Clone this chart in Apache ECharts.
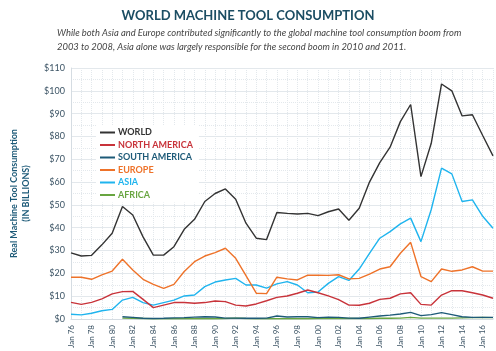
<!DOCTYPE html>
<html>
<head>
<meta charset="utf-8">
<script src="https://cdn.jsdelivr.net/npm/echarts@6/dist/echarts.min.js"></script>
<style>
  html, body { margin: 0; padding: 0; background: #fff; }
  #chart { width: 496px; height: 351px; }
</style>
</head>
<body>
<div id="chart"></div>
<script>
// years 1976 .. 2017, one point per year
var years = [];
for (var y = 1976; y <= 2017; y++) years.push(y);
var categories = years.map(function (y) { return 'Jan ' + String(y).slice(2); });

var world = [29, 27.6, 27.9, 32.5, 37.6, 49.3, 45.6, 36, 28, 28, 31.7, 39.3, 43.7, 51.5, 55, 57, 52.5, 42, 35.4, 34.8,
  46.7, 46.3, 46, 46.3, 45.3, 47, 48.2, 43.3, 48.5, 60, 68.5, 75.3, 86.5, 94, 62.4, 77, 103, 100, 89, 89.5, 80.4, 71.5];
var northAmerica = [7.3, 6.4, 7.3, 8.8, 11, 12, 12.1, 8.6, 5, 6.1, 7.2, 7.2, 6.9, 7.2, 7.9, 7.6, 6.1, 5.7, 6.6, 8,
  9.5, 10.1, 11.3, 12.7, 11.5, 10.1, 8.5, 6.1, 6, 6.9, 8.6, 9.1, 11, 11.5, 6.4, 6.1, 10.5, 12.4, 12.4, 11.5, 10.5, 9.1];
var southAmerica = [null, null, null, null, null, 1.0, 0.7, 0.3, 0.2, 0.3, 0.5, 0.6, 0.8, 1.0, 0.9, 0.4, 0.4, 0.3, 0.3, 0.4,
  1.3, 0.9, 1.0, 1.0, 0.6, 0.8, 0.7, 0.4, 0.3, 0.8, 1.3, 1.7, 2.2, 2.9, 1.5, 1.9, 2.8, 1.9, 1.0, 0.7, 0.7, 0.7];
var europe = [18.3, 18.3, 17.4, 19.3, 21, 26.2, 21.5, 17.4, 15.2, 13.4, 15.2, 20.8, 25.1, 27.6, 29.1, 31, 26.6, 19, 11.3, 11.1,
  18.3, 17.6, 17.1, 19.2, 19.2, 19.1, 19.4, 17.6, 17.8, 19.7, 21.9, 22.9, 28.8, 33.6, 18.6, 16.4, 21.9, 20.9, 21.5, 22.9, 21, 21];
var asia = [2.1, 1.8, 2.5, 3.6, 4.2, 8.3, 9.5, 7.2, 6.1, 7.2, 8.3, 10.1, 10.5, 14.2, 16.2, 17.1, 17.8, 14.9, 14.9, 13.5,
  15.4, 16.4, 14.9, 11.5, 11.8, 15.6, 18.6, 16.9, 21.9, 28.8, 35.4, 38.3, 41.7, 44.2, 33.9, 48, 66.1, 63.6, 51.5, 52.2, 45, 39.8];
var africa = [null, null, null, null, null, 0.4, 0.3, 0.2, 0.1, 0.1, 0.1, 0.1, 0.1, 0.1, 0.1, 0.2, 0.4, 0.2, 0.1, 0.1,
  0.1, 0.1, 0.1, 0.1, 0.2, 0.2, 0.2, 0.2, 0.2, 0.2, 0.3, 0.3, 0.4, 0.7, 0.4, 0.4, 0.4, 0.4, 0.5, 0.6, 0.7, 0.6];

var seriesNames = ['WORLD', 'NORTH AMERICA', 'SOUTH AMERICA', 'EUROPE', 'ASIA', 'AFRICA'];
var seriesData = [world, northAmerica, southAmerica, europe, asia, africa];
var colors = ['#333333', '#c8333a', '#1d5a78', '#ee7229', '#1fb4ee', '#68a540'];

var chart = echarts.init(document.getElementById('chart'));

var option = {
  animation: false,
  color: colors,
  textStyle: { fontFamily: 'Lato' },

  title: [{
    text: 'WORLD MACHINE TOOL CONSUMPTION',
    left: 'center',
    top: 4,
    textStyle: { fontFamily: 'Lato', fontWeight: 'bold', fontSize: 13, color: '#1b4d63' }
  }, {
    text: 'While both Asia and Europe contributed significantly to the global machine tool consumption boom from\n2003 to 2008, Asia alone was largely responsible for the second boom in 2010 and 2011.',
    left: 52,
    top: 21,
    textStyle: { fontFamily: 'Lato', fontStyle: 'italic', fontWeight: 'normal', fontSize: 9.4, lineHeight: 14, color: '#444' }
  }],

  // Setup grid
  grid: { left: 53, right: 3, top: 68, bottom: 32 },

  legend: {
    orient: 'vertical',
    left: 96,
    top: 125,
    backgroundColor: '#fff',
    padding: [3, 6, 3, 4],
    itemWidth: 15,
    itemHeight: 8,
    itemGap: 3.5,
    icon: 'path://M0,4 L15,4 L15,6 L0,6 Z',
    data: seriesNames.map(function (n, i) {
      return { name: n, textStyle: { color: colors[i] } };
    }),
    textStyle: { fontFamily: 'Lato', fontWeight: 'bold', fontSize: 9, padding: [0, 0, 0, -2] }
  },

  // Horizontal axis
  xAxis: {
    type: 'category',
    boundaryGap: false,
    data: categories,
    axisLine: { lineStyle: { color: '#d5dce2' } },
    axisTick: { show: false },
    axisLabel: { interval: 1, rotate: 90, fontSize: 8, color: '#3d5566', margin: 6 },
    splitLine: { show: true, interval: 0, lineStyle: { color: '#e3e8ec', type: 'dotted' } }
  },

  // Vertical axis
  yAxis: {
    type: 'value',
    min: 0,
    max: 110,
    interval: 10,
    name: 'Real Machine Tool Consumption\n(IN BILLIONS)',
    nameLocation: 'middle',
    nameGap: 39,
    nameTextStyle: { fontFamily: 'Lato', fontWeight: 'bold', fontSize: 9, color: '#1d5a78', lineHeight: 12 },
    axisLine: { show: true, lineStyle: { color: '#d5dce2' } },
    axisTick: { show: false },
    axisLabel: { formatter: '${value}', fontSize: 9, color: '#3d5566', margin: 6 },
    splitLine: { lineStyle: { color: '#e3e8ec' } },
    minorTick: { show: false, splitNumber: 2 },
    minorSplitLine: { show: true, lineStyle: { color: '#e3e8ec', type: 'dotted' } }
  },

  series: seriesNames.map(function (n, i) {
    return {
      name: n,
      type: 'line',
      data: seriesData[i],
      showSymbol: false,
      z: 10 - i,
      lineStyle: { width: 1.4 }
    };
  })
};

chart.setOption(option);
</script>
</body>
</html>
